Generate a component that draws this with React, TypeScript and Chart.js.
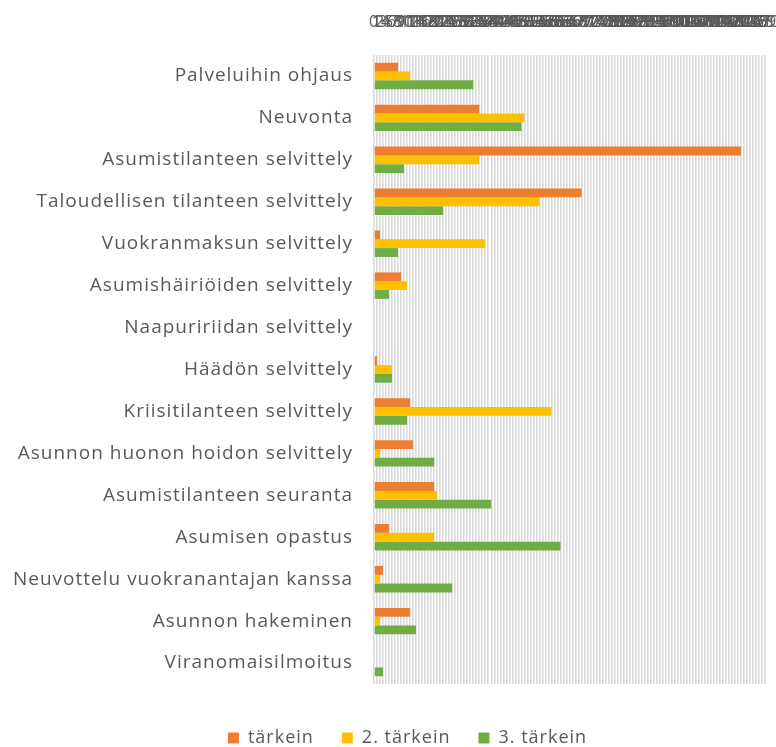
import React, { useEffect, useRef } from "react";
import { Chart, registerables } from "chart.js";

Chart.register(...registerables);

const categories = [
  "Palveluihin ohjaus",
  "Neuvonta",
  "Asumistilanteen selvittely",
  "Taloudellisen tilanteen selvittely",
  "Vuokranmaksun selvittely",
  "Asumishäiriöiden selvittely",
  "Naapuririidan selvittely",
  "Häädön selvittely",
  "Kriisitilanteen selvittely",
  "Asunnon huonon hoidon selvittely",
  "Asumistilanteen seuranta",
  "Asumisen opastus",
  "Neuvottelu vuokranantajan kanssa",
  "Asunnon hakeminen",
  "Viranomaisilmoitus",
];

const seriesNames = ["tärkein", "2. tärkein", "3. tärkein"];

const tarkein = [8, 35, 122, 69, 2, 9, 0, 1, 12, 13, 20, 5, 3, 12, 0];
const tarkein2 = [12, 50, 35, 55, 37, 11, 0, 6, 59, 2, 21, 20, 2, 2, 0];
const tarkein3 = [33, 49, 10, 23, 8, 5, 0, 6, 11, 20, 39, 62, 26, 14, 3];

const axisMax = 130;

const colors = ["#ED7D31", "#FFC000", "#70AD47"];
const textColor = "#595959";
const fontFamily = "'Open Sans', sans-serif";

const legendShift = {
  id: "legendShift",
  afterLayout(chart: any) {
    const l = chart.legend;
    if (l) {
      l.top += 17;
      l.bottom += 17;
      l.left += 25;
      l.right += 25;
    }
  },
};

const wideText = {
  id: "wideText",
  beforeInit(chart: any) {
    (chart.ctx as any).letterSpacing = "1px";
  },
  beforeUpdate(chart: any) {
    (chart.ctx as any).letterSpacing = "1px";
  },
  beforeDraw(chart: any) {
    (chart.ctx as any).letterSpacing = "1px";
  },
};

export default function App() {
  const canvasRef = useRef<HTMLCanvasElement | null>(null);

  useEffect(() => {
    if (!canvasRef.current) return;
    const chart = new Chart(canvasRef.current, {
      type: "bar",
      data: {
        labels: categories,
        datasets: [tarkein, tarkein2, tarkein3].map((d, i) => ({
          label: seriesNames[i],
          data: d,
          backgroundColor: colors[i],
          borderWidth: 0,
          barPercentage: 1,
          categoryPercentage: 0.63,
        })),
      },
      options: {
        indexAxis: "y",
        responsive: true,
        maintainAspectRatio: false,
        animation: false,
        layout: { padding: { left: 0, right: 11, top: 0, bottom: 7 } },
        plugins: {
          legend: {
            position: "bottom",
            labels: {
              boxWidth: 11,
              boxHeight: 11,
              color: textColor,
              padding: 28,
              font: { family: fontFamily, size: 18 },
            },
          },
          tooltip: { enabled: false },
        },
        scales: {
          x: {
            position: "top",
            min: 0,
            max: axisMax,
            afterFit: (scale: any) => {
              scale.height = 55;
              scale.paddingLeft = 0;
              scale.paddingRight = 0;
            },
            ticks: {
              stepSize: 1,
              autoSkip: false,
              maxRotation: 0,
              minRotation: 0,
              color: textColor,
              padding: 23,
              font: { family: fontFamily, size: 16 },
            },
            grid: { color: "#d9d9d9", lineWidth: 1.6, drawTicks: false },
            border: { display: false },
          },
          y: {
            afterFit: (scale: any) => {
              scale.width = 374;
            },
            ticks: {
              color: textColor,
              padding: 21,
              font: { family: fontFamily, size: 19 },
            },
            grid: { display: false, drawTicks: false },
            border: { display: false },
          },
        },
      },
      plugins: [wideText, legendShift],
    });
    return () => chart.destroy();
  }, []);

  return (
    <div style={{ position: "fixed", left: 0, top: 0, width: 776, height: 747, background: "#fff" }}>
      <canvas ref={canvasRef} />
    </div>
  );
}
